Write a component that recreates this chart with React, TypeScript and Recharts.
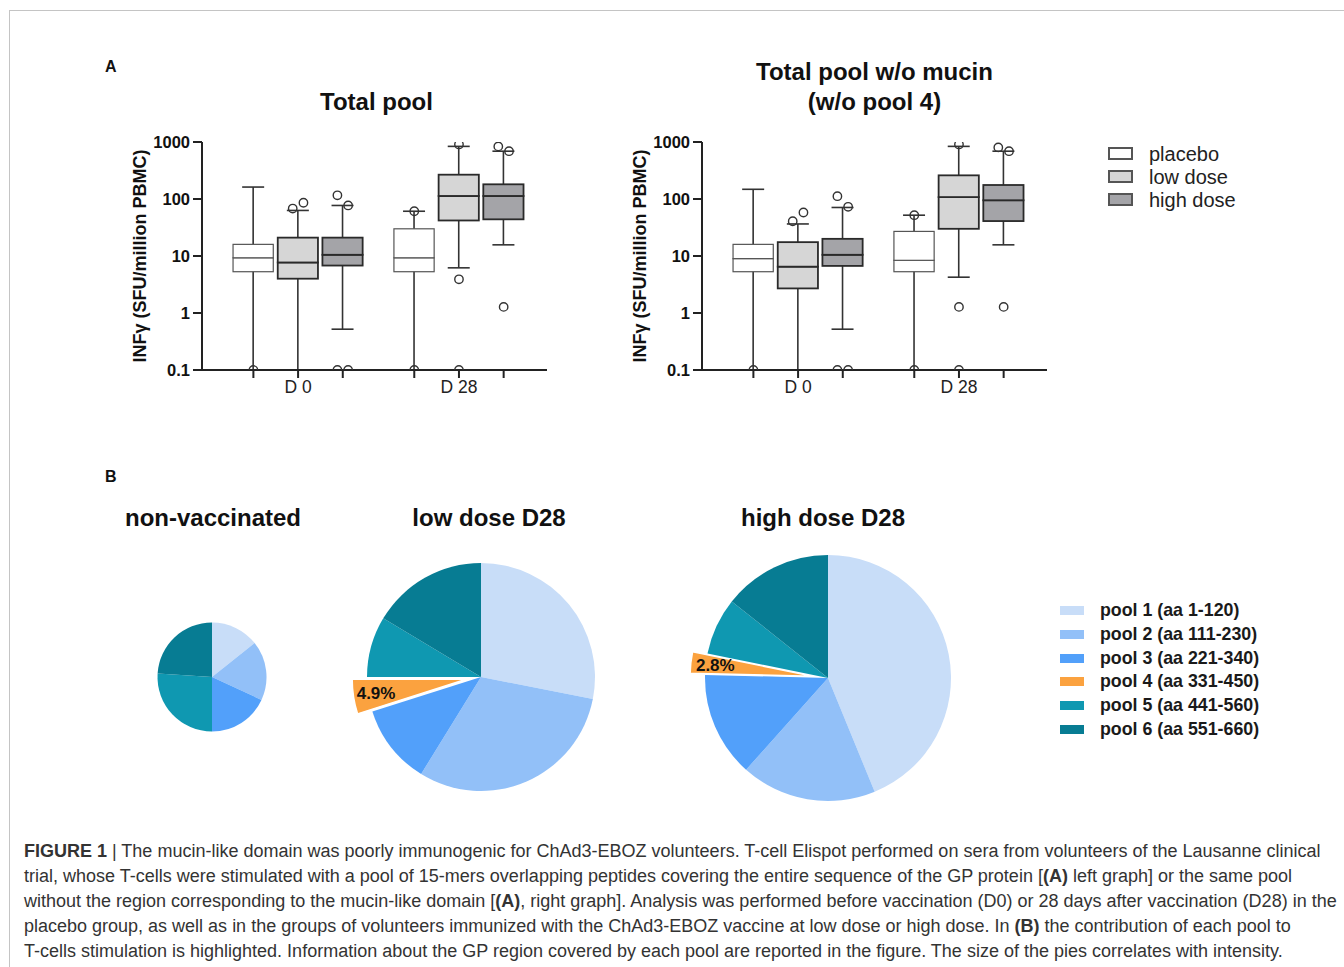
import React from "react";
import {
  ComposedChart,
  Bar,
  Scatter,
  XAxis,
  YAxis,
  PieChart,
  Pie,
  Cell,
} from "recharts";

// ---------- panel A: box plots ----------
const days = ["D 0", "D 28"];
const groups = ["placebo", "low dose", "high dose"];
const groupFills = ["#ffffff", "#d6d6d6", "#a4a4a8"];
const yTicks = [0.1, 1, 10, 100, 1000];

// order of every array: D0 placebo, D0 low, D0 high, D28 placebo, D28 low, D28 high
const totalWhiskerLow = [0.1, 0.1, 0.52, 0.1, 6.2, 15.7];
const totalQ1 = [5.3, 4.0, 6.8, 5.3, 42, 44];
const totalMedian = [9.3, 7.7, 10.5, 9.3, 113, 113];
const totalQ3 = [16, 21, 21, 30, 267, 181];
const totalWhiskerHigh = [162, 63, 77, 61, 838, 690];
const totalOutliers = [[0.1], [68, 86], [116, 77, 0.1, 0.1], [61, 0.1], [907, 3.9, 0.1], [838, 690, 1.28]];

const noMucinWhiskerLow = [0.1, 0.1, 0.52, 0.1, 4.25, 15.7];
const noMucinQ1 = [5.3, 2.7, 6.7, 5.3, 30, 41];
const noMucinMedian = [9.0, 6.5, 10.5, 8.4, 108, 95];
const noMucinQ3 = [16, 17.5, 20, 27, 260, 176];
const noMucinWhiskerHigh = [148, 36.5, 71, 52, 838, 690];
const noMucinOutliers = [[0.1], [40.7, 58], [112, 73, 0.1, 0.1], [52, 0.1], [907, 1.28, 0.1], [804, 690, 1.28]];

// ---------- panel B: pies ----------
const pools = [
  "pool 1 (aa 1-120)",
  "pool 2 (aa 111-230)",
  "pool 3 (aa 221-340)",
  "pool 4 (aa 331-450)",
  "pool 5 (aa 441-560)",
  "pool 6 (aa 551-660)",
];
const poolColors = ["#c8ddf8", "#92c0f8", "#52a0fa", "#fba23f", "#0f98b1", "#077c93"];
const nonVaccinated = [14.3, 17.6, 18.1, 0, 26.0, 24.0];
const lowDoseD28 = [28.1, 30.7, 11.3, 4.9, 8.6, 16.4];
const highDoseD28 = [43.8, 17.8, 13.8, 2.8, 7.5, 14.3];

const dayGap = 3.6;
const xDomain = [-1.15, 6.57];
const axisColor = "#222";

function buildRows(lo: number[], q1: number[], med: number[], q3: number[], hi: number[]) {
  return lo.map((_, i) => {
    const day = Math.floor(i / 3);
    const group = i % 3;
    return { x: day * dayGap + group, day, group, lo: lo[i], q1: q1[i], med: med[i], q3: q3[i], hi: hi[i] };
  });
}

// small horizontal jitter for outliers lying close together, like the original software does
function buildOutliers(rows: any[], outliers: number[][]) {
  const pts: { x: number; v: number }[] = [];
  const close = (a: number, b: number) => Math.abs(Math.log10(a) - Math.log10(b)) < 0.4;
  outliers.forEach((vals, i) => {
    vals.forEach((v, j) => {
      const hasNeighbour = vals.some((w, k) => k !== j && close(w, v));
      let dx = 0;
      if (hasNeighbour) {
        const before = vals.slice(0, j).filter((w) => close(w, v)).length;
        dx = before === 0 ? -0.12 : 0.12;
      }
      pts.push({ x: rows[i].x + dx, v });
    });
  });
  return pts;
}

const WhiskerShape = (props: any) => {
  const { x, y, width, height } = props;
  const cx = x + width / 2;
  const cap = 11;
  return (
    <g stroke="#333" strokeWidth={1.6}>
      <line x1={cx} y1={y} x2={cx} y2={y + height} />
      <line x1={cx - cap} y1={y} x2={cx + cap} y2={y} />
      <line x1={cx - cap} y1={y + height} x2={cx + cap} y2={y + height} />
    </g>
  );
};

const BoxHalf = (props: any) => {
  const { x, y, width, height, payload } = props;
  const placebo = payload.group === 0;
  return (
    <rect
      x={x}
      y={y}
      width={width}
      height={height}
      fill={groupFills[payload.group]}
      stroke={placebo ? "#555" : "#2a2a2a"}
      strokeWidth={placebo ? 1.2 : 1.8}
    />
  );
};

const OutlierDot = (props: any) => (
  <circle cx={props.cx} cy={props.cy} r={4.2} fill="none" stroke="#333" strokeWidth={1.4} />
);

function BoxChart({ rows, outliers, left }: { rows: any[]; outliers: number[][]; left: number }) {
  const pts = buildOutliers(rows, outliers);
  const xTicks = rows.map((r) => r.x);
  const tickLabel = (v: number) => {
    const r = rows.find((row) => row.x === v);
    return r && r.group === 1 ? days[r.day] : "";
  };
  return (
    <div style={{ position: "absolute", left, top: 130 }}>
      <ComposedChart width={460} height={290} data={rows} margin={{ top: 12, right: 13, bottom: 20, left: 0 }}>
        <XAxis
          xAxisId="main"
          type="number"
          dataKey="x"
          domain={xDomain}
          ticks={xTicks}
          interval={0}
          allowDataOverflow
          tickFormatter={tickLabel}
          height={30}
          tickSize={8}
          tickMargin={3}
          axisLine={{ stroke: axisColor, strokeWidth: 2 }}
          tickLine={{ stroke: axisColor, strokeWidth: 2 }}
          tick={{ fontSize: 17.5, fill: "#222" }}
        />
        <XAxis xAxisId="w" orientation="top" type="number" dataKey="x" domain={xDomain} allowDataOverflow hide />
        <XAxis xAxisId="lo" orientation="top" type="number" dataKey="x" domain={xDomain} allowDataOverflow hide />
        <XAxis xAxisId="hi" orientation="top" type="number" dataKey="x" domain={xDomain} allowDataOverflow hide />
        <YAxis
          type="number"
          scale="log"
          domain={[0.1, 1000]}
          ticks={yTicks}
          interval={0}
          allowDataOverflow
          width={102}
          tickSize={9}
          tickMargin={3}
          tickFormatter={(v: number) => String(v)}
          axisLine={{ stroke: axisColor, strokeWidth: 2 }}
          tickLine={{ stroke: axisColor, strokeWidth: 2 }}
          tick={{ fontSize: 16.5, fontWeight: 700, fill: "#111" }}
          label={{
            value: "INFγ (SFU/million PBMC)",
            angle: -90,
            position: "insideLeft",
            offset: 40,
            style: { textAnchor: "middle", fontSize: 18, fontWeight: 700, fill: "#111" },
          }}
        />
        <Bar xAxisId="w" dataKey={(d: any) => [d.lo, d.hi]} barSize={45} shape={WhiskerShape} isAnimationActive={false} />
        <Bar xAxisId="lo" dataKey={(d: any) => [d.q1, d.med]} barSize={45} shape={BoxHalf} isAnimationActive={false} />
        <Bar xAxisId="hi" dataKey={(d: any) => [d.med, d.q3]} barSize={45} shape={BoxHalf} isAnimationActive={false} />
        <Scatter xAxisId="main" data={pts} dataKey="v" shape={OutlierDot} isAnimationActive={false} />
      </ComposedChart>
    </div>
  );
}

// ---------- pies ----------
const explode = 15;
const RADIAN = Math.PI / 180;

function explodeShift(values: number[], index: number) {
  const total = values.reduce((a, b) => a + b, 0);
  const before = values.slice(0, index).reduce((a, b) => a + b, 0);
  const theta = ((before + values[index] / 2) / total) * 2 * Math.PI; // clockwise from top
  return { dx: explode * Math.sin(theta), dy: -explode * Math.cos(theta) };
}

const renderPoolLabel = (props: any) => {
  const { cx, cy, midAngle, outerRadius, index, value } = props;
  if (index !== 3 || !value) return null;
  const r = outerRadius * 0.8 + explode;
  const x = cx + r * Math.cos(-midAngle * RADIAN);
  const y = cy + r * Math.sin(-midAngle * RADIAN);
  return (
    <text x={x} y={y} textAnchor="middle" dominantBaseline="central" fontSize={17} fontWeight={700} fill="#111">
      {`${value.toFixed(1)}%`}
    </text>
  );
};

const pieSets = [
  { title: "non-vaccinated", values: nonVaccinated, cx: 112, cy: 137, r: 54.5, titleX: 213 },
  { title: "low dose D28", values: lowDoseD28, cx: 381, cy: 137, r: 114, titleX: 489 },
  { title: "high dose D28", values: highDoseD28, cx: 728, cy: 138, r: 123, titleX: 823 },
];

const abs = (left: number, top: number, extra: React.CSSProperties = {}): React.CSSProperties => ({
  position: "absolute",
  left,
  top,
  whiteSpace: "nowrap",
  ...extra,
});

export default function App() {
  const totalRows = buildRows(totalWhiskerLow, totalQ1, totalMedian, totalQ3, totalWhiskerHigh);
  const noMucinRows = buildRows(noMucinWhiskerLow, noMucinQ1, noMucinMedian, noMucinQ3, noMucinWhiskerHigh);

  return (
    <div
      style={{
        position: "absolute",
        left: 0,
        top: 0,
        width: 1344,
        height: 967,
        overflow: "hidden",
        background: "#fff",
        fontFamily: "'Liberation Sans', Arial, sans-serif",
        color: "#111",
      }}
    >
      {/* frame */}
      <div style={abs(9, 10, { width: 1340, height: 970, borderTop: "1px solid #c4c4c4", borderLeft: "1px solid #c4c4c4" })} />

      <div style={abs(105, 57, { fontSize: 16, fontWeight: 700, lineHeight: "20px" })}>A</div>
      <div style={abs(105, 467, { fontSize: 16, fontWeight: 700, lineHeight: "20px" })}>B</div>

      <div style={abs(204, 87, { width: 345, textAlign: "center", fontSize: 24, fontWeight: 700, lineHeight: "30px" })}>
        Total pool
      </div>
      <div style={abs(702, 57, { width: 345, textAlign: "center", fontSize: 24, fontWeight: 700, lineHeight: "30px" })}>
        Total pool w/o mucin
        <br />
        (w/o pool 4)
      </div>

      <BoxChart rows={totalRows} outliers={totalOutliers} left={100} />
      <BoxChart rows={noMucinRows} outliers={noMucinOutliers} left={600} />

      {/* box legend */}
      {groups.map((g, i) => (
        <React.Fragment key={g}>
          <div
            style={abs(1108, 147 + i * 23, {
              width: 25,
              height: 13,
              boxSizing: "border-box",
              border: "2px solid #555",
              background: groupFills[i],
            })}
          />
          <div style={abs(1149, 142 + i * 23, { fontSize: 20, lineHeight: "24px", color: "#222" })}>{g}</div>
        </React.Fragment>
      ))}

      {/* pie titles */}
      {pieSets.map((p) => (
        <div
          key={p.title}
          style={abs(p.titleX - 150, 503, { width: 300, textAlign: "center", fontSize: 24, fontWeight: 700, lineHeight: "30px" })}
        >
          {p.title}
        </div>
      ))}

      <div style={{ position: "absolute", left: 100, top: 540 }}>
        <PieChart width={900} height={280} margin={{ top: 0, right: 0, bottom: 0, left: 0 }}>
          {pieSets.map((p) => {
            const data = p.values.map((v, i) => ({ name: pools[i], value: v }));
            const shift = p.values[3] > 0 ? explodeShift(p.values, 3) : { dx: 0, dy: 0 };
            return (
              <Pie
                key={p.title}
                data={data}
                dataKey="value"
                cx={p.cx}
                cy={p.cy}
                outerRadius={p.r}
                startAngle={90}
                endAngle={-270}
                stroke="none"
                label={renderPoolLabel}
                labelLine={false}
                isAnimationActive={false}
              >
                {data.map((d, i) =>
                  i === 3 ? (
                    <Cell
                      key={d.name}
                      fill={poolColors[i]}
                      stroke="#fff"
                      strokeWidth={1.5}
                      transform={`translate(${shift.dx}, ${shift.dy})`}
                    />
                  ) : (
                    <Cell key={d.name} fill={poolColors[i]} />
                  )
                )}
              </Pie>
            );
          })}
        </PieChart>
      </div>

      {/* pool legend */}
      {pools.map((p, i) => (
        <React.Fragment key={p}>
          <div style={abs(1060, 606 + i * 23.8, { width: 24, height: 9, background: poolColors[i] })} />
          <div style={abs(1100, 598 + i * 23.8, { fontSize: 17.8, fontWeight: 700, lineHeight: "24px", color: "#1a1a1a" })}>
            {p}
          </div>
        </React.Fragment>
      ))}

      {/* caption */}
      <div style={abs(24, 839, { fontSize: 18, lineHeight: "25px", color: "#333" })}>
        <div>
          <b>FIGURE 1</b> | The mucin-like domain was poorly immunogenic for ChAd3-EBOZ volunteers. T-cell Elispot performed on
          sera from volunteers of the Lausanne clinical
        </div>
        <div>
          trial, whose T-cells were stimulated with a pool of 15-mers overlapping peptides covering the entire sequence of the GP
          protein [<b>(A)</b> left graph] or the same pool
        </div>
        <div>
          without the region corresponding to the mucin-like domain [<b>(A)</b>, right graph]. Analysis was performed before
          vaccination (D0) or 28 days after vaccination (D28) in the
        </div>
        <div>
          placebo group, as well as in the groups of volunteers immunized with the ChAd3-EBOZ vaccine at low dose or high dose. In{" "}
          <b>(B)</b> the contribution of each pool to
        </div>
        <div>
          T-cells stimulation is highlighted. Information about the GP region covered by each pool are reported in the figure. The
          size of the pies correlates with intensity.
        </div>
      </div>
    </div>
  );
}
